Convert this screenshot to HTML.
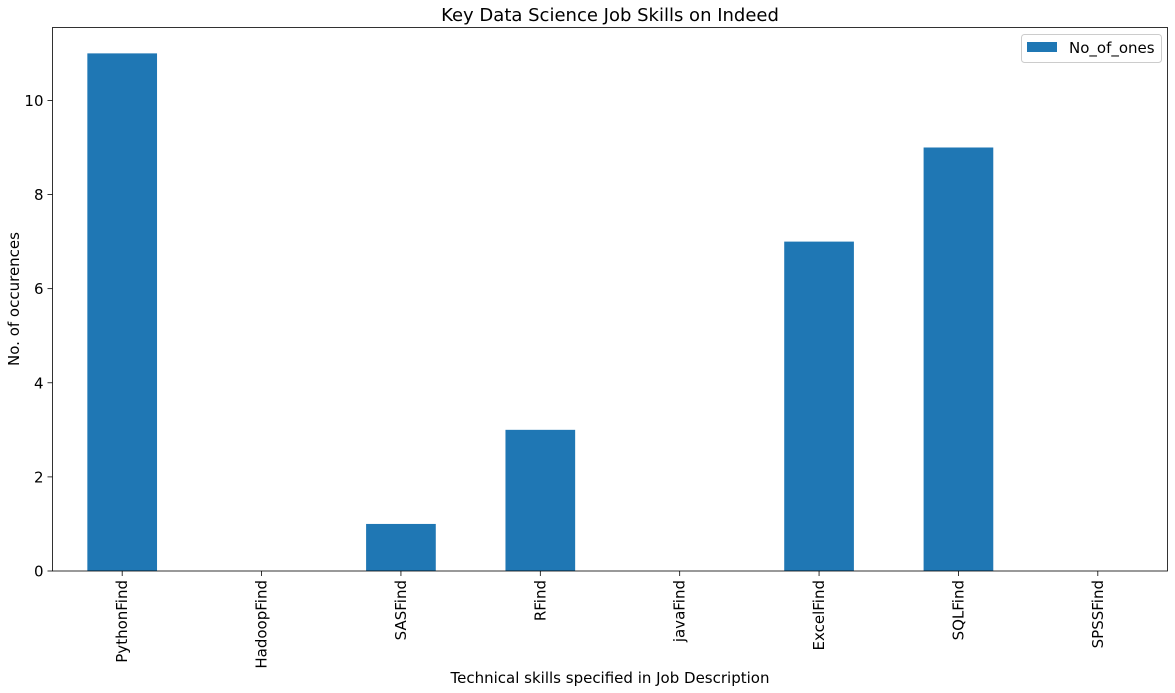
<!DOCTYPE html>
<html><head><meta charset="utf-8"><style>
html,body{margin:0;padding:0;background:#fff;}
svg{display:block;font-family:"DejaVu Sans","Liberation Sans",sans-serif;}
</style></head><body>
<svg id="chart" width="1175" height="693">
<text x="610" y="21" font-size="18" text-anchor="middle" fill="#000">Key Data Science Job Skills on Indeed</text>
<g id="bars"></g>
<g id="axes"></g>
<text x="610" y="683" font-size="15" text-anchor="middle">Technical skills specified in Job Description</text>
<text transform="translate(19,299) rotate(-90)" font-size="15" text-anchor="middle">No. of occurences</text>
<g>
<rect x="1021.5" y="34.5" width="140" height="28" rx="3" fill="#fff" stroke="#ccc"/>
<rect x="1027" y="42" width="30" height="10" fill="#1f77b4"/>
<text x="1069" y="53" font-size="15">No_of_ones</text>
</g>
</svg>
<script>
const categories=["PythonFind","HadoopFind","SASFind","RFind","javaFind","ExcelFind","SQLFind","SPSSFind"];
const values=[11,0,1,3,0,7,9,0];
const yTicks=[0,2,4,6,8,10];
const L=52.5,R=1167.5,T=27.5,B=571,yMax=11.55;
const ns="http://www.w3.org/2000/svg";
function y(v){return B-(v/yMax)*(B-T);}
const step=(R-L)/categories.length;
function xc(i){return L+step*(i+0.5);}
const bars=document.getElementById('bars'),axes=document.getElementById('axes');
function mk(t,a,p){const e=document.createElementNS(ns,t);for(const k in a)e.setAttribute(k,a[k]);p.appendChild(e);return e;}
categories.forEach((c,i)=>{
  const w=step*0.5;
  const r=mk('rect',{x:xc(i)-w/2,y:y(values[i]),width:w,height:B-y(values[i]),fill:'#1f77b4'},bars);
  
  
  mk('line',{x1:xc(i),x2:xc(i),y1:B,y2:B+5,stroke:'#000','stroke-width':0.8},axes);
  const t=mk('text',{transform:`translate(${xc(i)+5},${B+9}) rotate(-90)`,'font-size':15,'text-anchor':'end'},axes);
  t.textContent=c;
  
  
});
yTicks.forEach(v=>{
  mk('line',{x1:L-5,x2:L,y1:y(v),y2:y(v),stroke:'#000','stroke-width':0.8},axes);
  const t=mk('text',{x:L-9,y:y(v)+5.5,'font-size':15,'text-anchor':'end'},axes);
  t.textContent=v;
  
  
});
const f=mk('rect',{x:L,y:T,width:R-L,height:B-T,fill:'none',stroke:'#000','stroke-width':0.8},axes);


</script>
</body></html>
